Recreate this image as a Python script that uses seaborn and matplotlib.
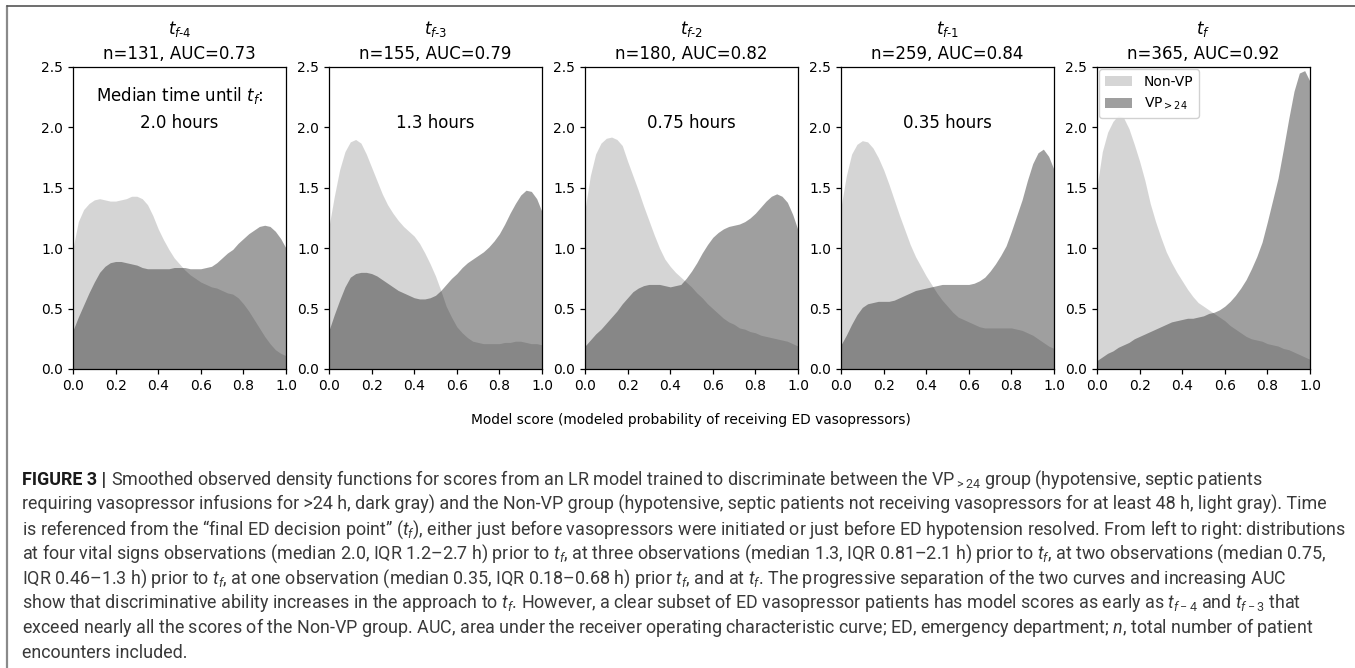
import matplotlib
matplotlib.use("Agg")
import numpy as np
import pandas as pd
import seaborn as sns
import matplotlib.pyplot as plt
from matplotlib.lines import Line2D
from matplotlib.patches import Patch

# ---------------- data ----------------
SCORE = [0.000, 0.025, 0.050, 0.075, 0.100, 0.125, 0.150, 0.175, 0.200, 0.225,
         0.250, 0.275, 0.300, 0.325, 0.350, 0.375, 0.400, 0.425, 0.450, 0.475,
         0.500, 0.525, 0.550, 0.575, 0.600, 0.625, 0.650, 0.675, 0.700, 0.725,
         0.750, 0.775, 0.800, 0.825, 0.850, 0.875, 0.900, 0.925, 0.950, 0.975,
         1.000]

TITLES = [r"$t_{f\text{-}4}$", r"$t_{f\text{-}3}$", r"$t_{f\text{-}2}$",
          r"$t_{f\text{-}1}$", r"$t_{f}$"]
N_ENC = [131, 155, 180, 259, 365]
AUC = [0.73, 0.79, 0.82, 0.84, 0.92]
MEDIAN_HOURS = ["2.0 hours", "1.3 hours", "0.75 hours", "0.35 hours", None]

NONVP_F4 = [1.00, 1.22, 1.32, 1.37, 1.40, 1.41, 1.40, 1.39, 1.39, 1.40,
            1.41, 1.43, 1.43, 1.41, 1.36, 1.27, 1.16, 1.07, 0.99, 0.92,
            0.87, 0.82, 0.78, 0.75, 0.72, 0.70, 0.68, 0.67, 0.65, 0.63,
            0.62, 0.59, 0.54, 0.48, 0.41, 0.34, 0.27, 0.21, 0.16, 0.13,
            0.11]
VP_F4 = [0.32, 0.43, 0.53, 0.63, 0.72, 0.80, 0.85, 0.88, 0.89, 0.89,
         0.88, 0.87, 0.86, 0.84, 0.83, 0.83, 0.83, 0.83, 0.83, 0.84,
         0.84, 0.84, 0.83, 0.83, 0.83, 0.84, 0.85, 0.88, 0.92, 0.96,
         0.99, 1.04, 1.08, 1.12, 1.15, 1.18, 1.19, 1.18, 1.14, 1.08,
         1.00]

NONVP_F3 = [1.18, 1.43, 1.65, 1.80, 1.88, 1.90, 1.87, 1.78, 1.67, 1.56,
            1.45, 1.36, 1.29, 1.23, 1.18, 1.14, 1.10, 1.04, 0.96, 0.87,
            0.77, 0.65, 0.52, 0.43, 0.35, 0.30, 0.26, 0.23, 0.22, 0.21,
            0.21, 0.21, 0.21, 0.22, 0.22, 0.23, 0.23, 0.22, 0.21, 0.21,
            0.20]
VP_F3 = [0.32, 0.45, 0.57, 0.68, 0.76, 0.79, 0.80, 0.80, 0.79, 0.77,
         0.74, 0.71, 0.68, 0.65, 0.63, 0.61, 0.59, 0.58, 0.58, 0.59,
         0.61, 0.65, 0.70, 0.75, 0.79, 0.84, 0.88, 0.91, 0.94, 0.97,
         1.01, 1.06, 1.12, 1.20, 1.29, 1.37, 1.44, 1.48, 1.47, 1.41,
         1.30]

NONVP_F2 = [1.32, 1.60, 1.78, 1.87, 1.91, 1.92, 1.90, 1.85, 1.72, 1.60,
            1.48, 1.35, 1.23, 1.11, 1.00, 0.91, 0.85, 0.80, 0.76, 0.72,
            0.68, 0.63, 0.59, 0.54, 0.50, 0.46, 0.42, 0.39, 0.37, 0.34,
            0.33, 0.31, 0.30, 0.28, 0.27, 0.26, 0.25, 0.24, 0.23, 0.21,
            0.19]
VP_F2 = [0.19, 0.24, 0.29, 0.33, 0.38, 0.43, 0.48, 0.54, 0.59, 0.64,
         0.67, 0.69, 0.70, 0.70, 0.70, 0.69, 0.68, 0.69, 0.70, 0.75,
         0.81, 0.88, 0.96, 1.03, 1.09, 1.13, 1.16, 1.18, 1.19, 1.20,
         1.22, 1.25, 1.29, 1.34, 1.39, 1.43, 1.45, 1.43, 1.38, 1.28,
         1.15]

NONVP_F1 = [1.34, 1.60, 1.78, 1.86, 1.89, 1.88, 1.83, 1.75, 1.65, 1.53,
            1.40, 1.27, 1.15, 1.03, 0.93, 0.85, 0.77, 0.70, 0.63, 0.57,
            0.52, 0.47, 0.43, 0.41, 0.39, 0.37, 0.35, 0.34, 0.34, 0.34,
            0.34, 0.34, 0.34, 0.33, 0.32, 0.30, 0.28, 0.25, 0.22, 0.19,
            0.17]
VP_F1 = [0.20, 0.28, 0.37, 0.45, 0.51, 0.54, 0.55, 0.56, 0.56, 0.56,
         0.57, 0.59, 0.61, 0.63, 0.65, 0.66, 0.67, 0.68, 0.69, 0.70,
         0.70, 0.70, 0.70, 0.70, 0.70, 0.71, 0.73, 0.76, 0.81, 0.87,
         0.94, 1.02, 1.14, 1.27, 1.40, 1.56, 1.70, 1.79, 1.82, 1.76,
         1.65]

NONVP_F0 = [1.51, 1.80, 1.96, 2.05, 2.10, 2.08, 1.99, 1.86, 1.72, 1.56,
            1.37, 1.22, 1.09, 0.97, 0.88, 0.80, 0.73, 0.66, 0.60, 0.55,
            0.52, 0.49, 0.46, 0.43, 0.40, 0.36, 0.33, 0.30, 0.27, 0.25,
            0.24, 0.23, 0.21, 0.20, 0.19, 0.17, 0.16, 0.14, 0.12, 0.10,
            0.08]
VP_F0 = [0.07, 0.10, 0.13, 0.15, 0.18, 0.20, 0.22, 0.25, 0.27, 0.29,
         0.31, 0.33, 0.35, 0.37, 0.39, 0.40, 0.41, 0.42, 0.42, 0.43,
         0.44, 0.46, 0.47, 0.49, 0.52, 0.56, 0.61, 0.67, 0.74, 0.83,
         0.93, 1.05, 1.22, 1.40, 1.58, 1.82, 2.07, 2.30, 2.45, 2.47,
         2.38]

NONVP = [NONVP_F4, NONVP_F3, NONVP_F2, NONVP_F1, NONVP_F0]
VP = [VP_F4, VP_F3, VP_F2, VP_F1, VP_F0]
GROUPS = ["Non-VP", "VP$_{>24}$"]

XLABEL = "Model score (modeled probability of receiving ED vasopressors)"

CAPTION_HEAD = "FIGURE 3 |"
CAPTION_LINES = [
    "Smoothed observed density functions for scores from an LR model trained to discriminate between the VP$_{>24}$ group (hypotensive, septic patients",
    "requiring vasopressor infusions for >24 h, dark gray) and the Non-VP group (hypotensive, septic patients not receiving vasopressors for at least 48 h, light gray). Time",
    "is referenced from the \u201cfinal ED decision point\u201d ($t_f$), either just before vasopressors were initiated or just before ED hypotension resolved. From left to right: distributions",
    "at four vital signs observations (median 2.0, IQR 1.2\u20132.7 h) prior to $t_f$, at three observations (median 1.3, IQR 0.81\u20132.1 h) prior to $t_f$, at two observations (median 0.75,",
    "IQR 0.46\u20131.3 h) prior to $t_f$, at one observation (median 0.35, IQR 0.18\u20130.68 h) prior $t_f$, and at $t_f$. The progressive separation of the two curves and increasing AUC",
    "show that discriminative ability increases in the approach to $t_f$. However, a clear subset of ED vasopressor patients has model scores as early as $t_{f-4}$ and $t_{f-3}$ that",
    "exceed nearly all the scores of the Non-VP group. AUC, area under the receiver operating characteristic curve; ED, emergency department; $n$, total number of patient",
    "encounters included.",
]

# ---------------- style ----------------
sns.set_theme(style="ticks")
plt.rcParams["font.family"] = ["DejaVu Sans"]
plt.rcParams.update({
    "axes.edgecolor": "black", "axes.linewidth": 0.9,
    "xtick.color": "black", "ytick.color": "black",
    "xtick.labelsize": 10, "ytick.labelsize": 10,
    "xtick.major.size": 3.5, "ytick.major.size": 3.5,
    "xtick.major.width": 0.9, "ytick.major.width": 0.9,
    "text.color": "black",
    "mathtext.fontset": "dejavusans",
    "mathtext.rm": "Roboto", "mathtext.it": "Roboto:italic",
    "mathtext.bf": "Roboto:bold", "mathtext.sf": "Roboto",
})

PALETTE = {GROUPS[0]: "#9c9c9c", GROUPS[1]: "#1a1a1a"}
ALPHA = 0.415

W, H = 1355, 668
fig = plt.figure(figsize=(W / 100, H / 100), dpi=100)
fig.patch.set_facecolor("white")

LEFTS = [73, 329, 585, 841, 1097]
AX_W, AX_TOP, AX_BOT = 213, 67, 369
AX_H = AX_BOT - AX_TOP

for i, left in enumerate(LEFTS):
    ax = fig.add_axes([left / W, 1 - AX_BOT / H, AX_W / W, AX_H / H])
    n = len(SCORE)
    df = pd.DataFrame({
        "score": SCORE * 2,
        "density": NONVP[i] + VP[i],
        "group": [GROUPS[0]] * n + [GROUPS[1]] * n,
    })
    sns.lineplot(data=df, x="score", y="density", hue="group",
                 palette=PALETTE, linewidth=0, legend=False, ax=ax)
    for g in GROUPS:
        sub = df[df["group"] == g]
        ax.fill_between(sub["score"], 0, sub["density"], color=PALETTE[g],
                        alpha=ALPHA, linewidth=0)
    ax.set_xlim(0, 1)
    ax.set_ylim(0, 2.5)
    ax.set_xticks([0.0, 0.2, 0.4, 0.6, 0.8, 1.0])
    ax.set_yticks([0.0, 0.5, 1.0, 1.5, 2.0, 2.5])
    ax.set_xlabel("")
    ax.set_ylabel("")
    for s in ax.spines.values():
        s.set_visible(True)
        s.set_color("black")

    # titles
    ax.text(0.5, 1 + (AX_TOP - 34) / AX_H, TITLES[i], transform=ax.transAxes,
            ha="center", va="baseline", fontsize=12)
    ax.text(0.5, 1 + (AX_TOP - 59) / AX_H, f"n={N_ENC[i]}, AUC={AUC[i]:.2f}",
            transform=ax.transAxes, ha="center", va="baseline", fontsize=12)
    if i == 0:
        ax.text(0.5, 1 - (101 - AX_TOP) / AX_H, r"Median time until $t_f$:",
                transform=ax.transAxes, ha="center", va="baseline", fontsize=12)
    if MEDIAN_HOURS[i]:
        ax.text(0.5, 1 - (128 - AX_TOP) / AX_H, MEDIAN_HOURS[i],
                transform=ax.transAxes, ha="center", va="baseline", fontsize=12)
    if i == len(LEFTS) - 1:
        handles = [Patch(facecolor=PALETTE[g], alpha=ALPHA, edgecolor="none")
                   for g in GROUPS]
        ax.legend(handles, GROUPS, loc="upper left", fontsize=10,
                  borderaxespad=0.15, frameon=True, fancybox=True,
                  edgecolor="#cccccc", framealpha=0.9)

# shared x label
fig.text(691 / W, 1 - 424 / H, XLABEL, ha="center", va="baseline", fontsize=9.9)

# ---------------- caption ----------------
renderer = fig.canvas.get_renderer()
CAP_FAMILY = ["Roboto", "DejaVu Sans"]
CAP_LEFT, CAP_RIGHT, CAP_BASE0, CAP_STEP = 22, 1340, 485, 24.7

# fit one common font size so the widest caption line ends at CAP_RIGHT
probe_head = fig.text(0, 0, CAPTION_HEAD, fontsize=12, family=CAP_FAMILY, weight="bold")
head_w12 = probe_head.get_window_extent(renderer).width
probe_head.remove()
ratios = []
for k, line in enumerate(CAPTION_LINES[:-1]):
    p = fig.text(0, 0, line, fontsize=12, family=CAP_FAMILY, weight="normal",
                 math_fontfamily="custom")
    w = p.get_window_extent(renderer).width + (head_w12 + 5 if k == 0 else 0)
    p.remove()
    ratios.append((CAP_RIGHT - CAP_LEFT) / w)
cap_size = 12 * min(ratios)

head = fig.text(CAP_LEFT / W, 1 - CAP_BASE0 / H, CAPTION_HEAD, fontsize=cap_size,
                family=CAP_FAMILY, weight="bold", color="#1a1a1a", va="baseline")
hw = head.get_window_extent(renderer).width
for k, line in enumerate(CAPTION_LINES):
    x = CAP_LEFT + (hw + 5 if k == 0 else 0)
    y = CAP_BASE0 + k * CAP_STEP
    fig.text(x / W, 1 - y / H, line, fontsize=cap_size, family=CAP_FAMILY,
             weight="normal", color="#3a3a3a", va="baseline", ha="left",
             math_fontfamily="custom")

# frame lines
fig.add_artist(Line2D([7 / W, 7 / W], [0, 1 - 6 / H], transform=fig.transFigure,
                      color="#8a8a8a", lw=1.6))
fig.add_artist(Line2D([7 / W, 1], [1 - 6 / H, 1 - 6 / H], transform=fig.transFigure,
                      color="#555555", lw=1.2))

fig.savefig("out.png", dpi=100, facecolor="white")
